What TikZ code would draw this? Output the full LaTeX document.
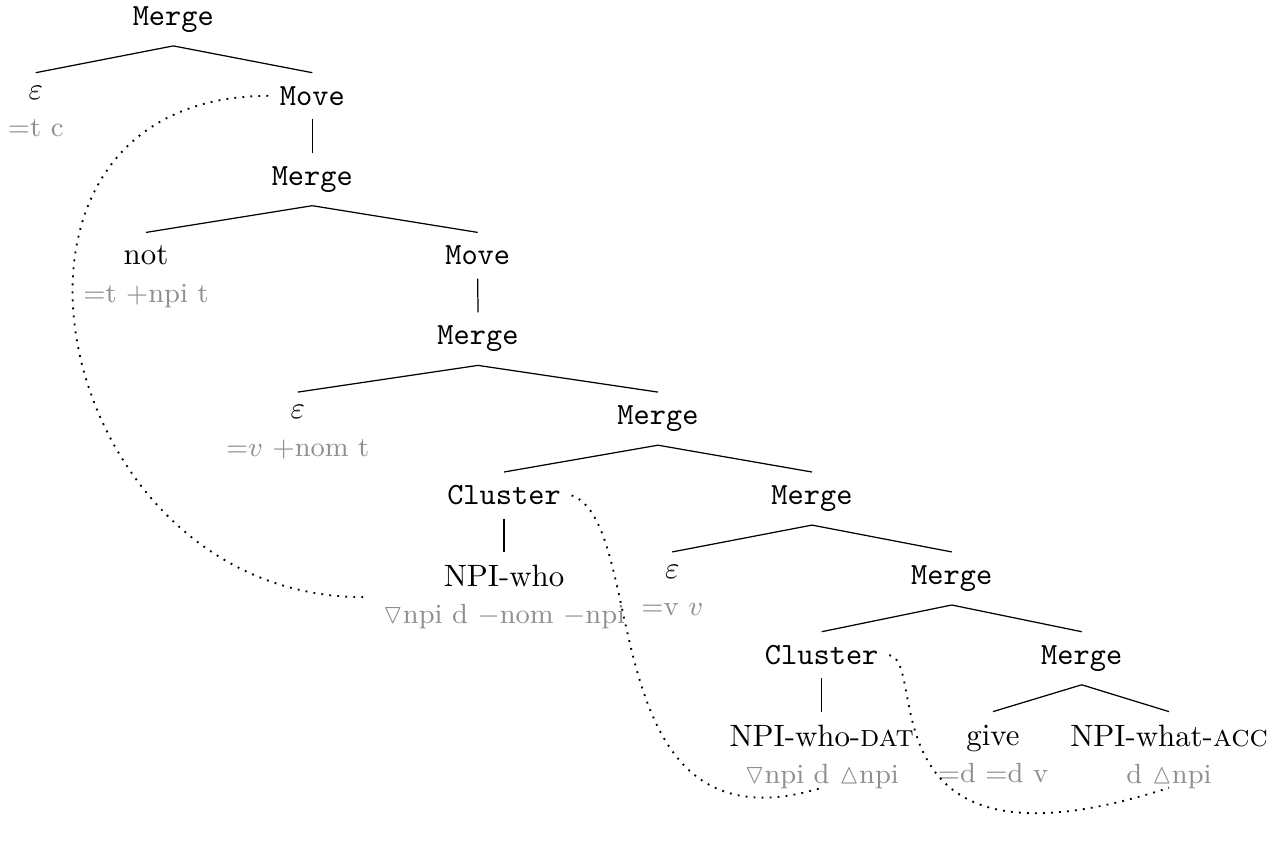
\documentclass[tikz,border=0pt]{standalone}
\usepackage{amssymb}
\usetikzlibrary{fit}
\definecolor{featgray}{gray}{0.56}
\begin{document}
\begin{tikzpicture}[x=0.324pt,y=-0.324pt,
  every node/.style={inner xsep=3.33pt, inner ysep=4.2pt},
  op/.style={font=\ttfamily, anchor=north},
  lex/.style={anchor=north},
  feat/.style={font=\small, text=featgray, anchor=base, inner sep=0pt},
  edge/.style={line width=0.4pt},
  mv/.style={dotted, line width=0.6pt}]
\useasboundingbox (0,0) rectangle (1277,847);
% nodes
\node[op]  (m0)   at (173.3,-7.2)  {Merge};
\node[lex] (e1)   at (35.7,72.7)   {$\varepsilon$};
\node[feat] (e1f) at ([yshift=-12pt]e1.base) {=t c};
\node[op]  (mv1)  at (312.3,72.7)  {Move};
\node[op]  (m2)   at (312.3,152.6) {Merge};
\node[lex] (not3) at (146,232.4)   {not};
\node[feat] (not3f) at ([yshift=-12pt]not3.base) {=t +npi t};
\node[op]  (mv3)  at (477.7,232.4) {Move};
\node[op]  (m4)   at (478,312.3)   {Merge};
\node[lex] (e5)   at (297.7,392.1) {$\varepsilon$};
\node[feat] (e5f) at ([yshift=-12pt]e5.base) {=$v$ +nom t};
\node[op]  (m5)   at (658,392.1)   {Merge};
\node[op]  (cl6)  at (504,472)     {Cluster};
\node[op]  (m6)   at (812,472)     {Merge};
\node[lex] (who7) at (504,551.9)   {NPI-who};
\node[feat] (who7f) at ([yshift=-12pt]who7.base) {$\triangledown$npi d $-$nom $-$npi};
\node[lex] (e7)   at (672.3,551.9) {$\varepsilon$};
\node[feat] (e7f) at ([yshift=-12pt]e7.base) {=v $v$};
\node[op]  (m7)   at (951.7,551.9) {Merge};
\node[op]  (cl8)  at (821.7,631.7) {Cluster};
\node[op]  (m8)   at (1081.7,631.7) {Merge};
\node[lex] (dat9) at (821.7,711.6) {NPI-who-\textsc{dat}};
\node[feat] (dat9f) at ([yshift=-12pt]dat9.base) {$\triangledown$npi d $\vartriangle$npi};
\node[lex] (give9) at (993,711.6)  {give};
\node[feat] (give9f) at ([yshift=-12pt]give9.base) {=d =d v};
\node[lex] (acc9) at (1169,711.6)  {NPI-what-\textsc{acc}};
\node[feat] (acc9f) at ([yshift=-12pt]acc9.base) {d $\vartriangle$npi};
\node[fit=(who7)(who7f), inner xsep=6pt, inner ysep=0pt] (who7leaf) {};
% edges
\draw[edge] (m0.south) -- (e1.north);
\draw[edge] (m0.south) -- (mv1.north);
\draw[edge] (mv1.south) -- (m2.north);
\draw[edge] (m2.south) -- (not3.north);
\draw[edge] (m2.south) -- (mv3.north);
\draw[edge] (mv3.south) -- (m4.north);
\draw[edge] (m4.south) -- (e5.north);
\draw[edge] (m4.south) -- (m5.north);
\draw[edge] (m5.south) -- (cl6.north);
\draw[edge] (m5.south) -- (m6.north);
\draw[edge] (cl6.south) -- (who7.north);
\draw[edge] (m6.south) -- (e7.north);
\draw[edge] (m6.south) -- (m7.north);
\draw[edge] (m7.south) -- (cl8.north);
\draw[edge] (m7.south) -- (m8.north);
\draw[edge] (cl8.south) -- (dat9.north);
\draw[edge] (m8.south) -- (give9.north);
\draw[edge] (m8.south) -- (acc9.north);
% movement paths
\draw[mv] ([yshift=-2pt]who7leaf.west) .. controls +(-315,0) and +(-320,0) .. (mv1.west);
\draw[mv] (cl6.east) .. controls +(79,28) and +(-232,71) .. ([yshift=0.6pt]dat9f.south);
\draw[mv] (cl8.east) .. controls +(40,6) and +(-310,100) .. ([yshift=0.6pt]acc9f.south);
\end{tikzpicture}
\end{document}
